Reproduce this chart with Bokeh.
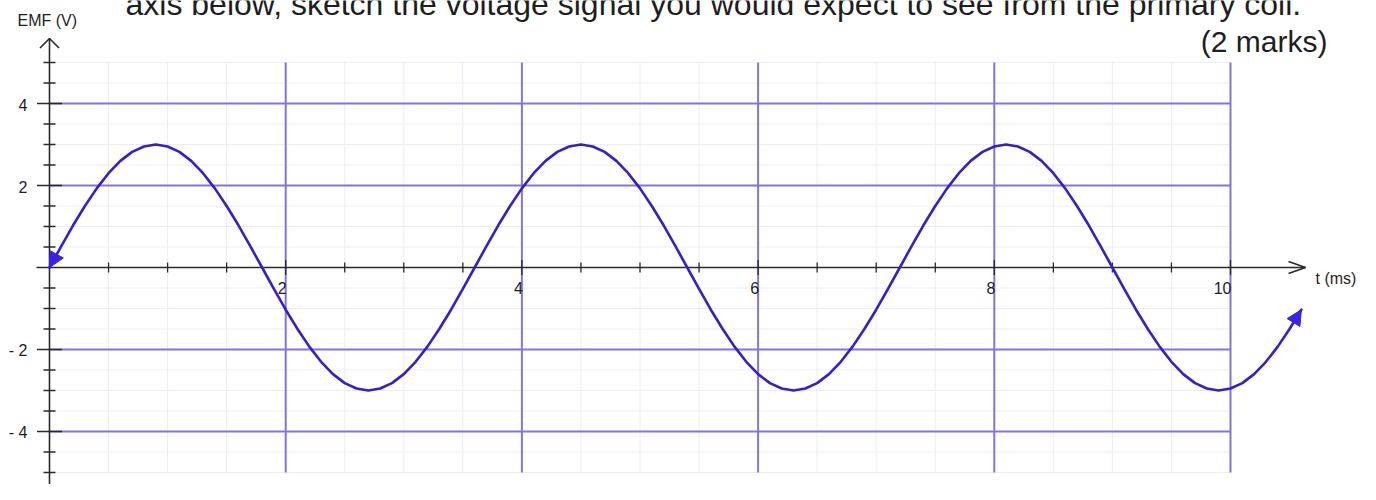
import numpy as np
from bokeh.plotting import figure
from bokeh.models import Range1d, Arrow, NormalHead
from bokeh.core.properties import value
from bokeh.embed import file_html
from bokeh.resources import INLINE

# ---------------- data ----------------
# sample times in ms (0 .. 10.6 every 0.1 ms)
t_ms = np.round(np.arange(0, 10.65, 0.1), 1).tolist()
# EMF readings in volts at those times
emf_v = [
    0.00, 0.52, 1.03, 1.50, 1.93, 2.30, 2.60, 2.82, 2.95, 3.00,
    2.95, 2.82, 2.60, 2.30, 1.93, 1.50, 1.03, 0.52, 0.00, -0.52,
    -1.03, -1.50, -1.93, -2.30, -2.60, -2.82, -2.95, -3.00, -2.95, -2.82,
    -2.60, -2.30, -1.93, -1.50, -1.03, -0.52,
    0.00, 0.52, 1.03, 1.50, 1.93, 2.30, 2.60, 2.82, 2.95, 3.00,
    2.95, 2.82, 2.60, 2.30, 1.93, 1.50, 1.03, 0.52, 0.00, -0.52,
    -1.03, -1.50, -1.93, -2.30, -2.60, -2.82, -2.95, -3.00, -2.95, -2.82,
    -2.60, -2.30, -1.93, -1.50, -1.03, -0.52,
    0.00, 0.52, 1.03, 1.50, 1.93, 2.30, 2.60, 2.82, 2.95, 3.00,
    2.95, 2.82, 2.60, 2.30, 1.93, 1.50, 1.03, 0.52, 0.00, -0.52,
    -1.03, -1.50, -1.93, -2.30, -2.60, -2.82, -2.95, -3.00, -2.95, -2.82,
    -2.60, -2.30, -1.93, -1.50, -1.03,
]

x_major_ticks = [2, 4, 6, 8, 10]
x_tick_labels = ["2", "4", "6", "8", "10"]
x_minor_ticks = [0.5, 1, 1.5, 2.5, 3, 3.5, 4.5, 5, 5.5, 6.5, 7, 7.5, 8.5, 9, 9.5]
y_major_ticks = [4, 2, -2, -4]
y_tick_labels = ["4", "2", "- 2", "- 4"]
y_minor_ticks = [5, 4.5, 3.5, 3, 2.5, 1.5, 1, 0.5, -0.5, -1, -1.5, -2.5, -3, -3.5, -4.5, -5]
grid_x_minor = [0, 0.5, 1, 1.5, 2, 2.5, 3, 3.5, 4, 4.5, 5, 5.5, 6, 6.5, 7, 7.5, 8, 8.5, 9, 9.5, 10]
grid_y_minor = [-5, -4.5, -4, -3.5, -3, -2.5, -2, -1.5, -1, -0.5, 0, 0.5, 1, 1.5, 2, 2.5, 3, 3.5, 4, 4.5, 5]
grid_x_major = [2, 4, 6, 8, 10]
grid_y_major = [4, 2, -2, -4]
grid_x_span = (0, 10)
grid_y_span = (-5, 5)

title_text = "axis below, sketch the voltage signal you would expect to see from the primary coil."
marks_text = "(2 marks)"
y_title = "EMF (V)"
x_title = "t (ms)"

# ---------------- layout / style ----------------
W, H = 1360, 484
OX, OY = 49.0, 267.0      # canvas pixel of the origin
SX, SY = 118.1, 41.0      # pixels per ms, pixels per volt


def X(px):
    return (px - OX) / SX


def Y(py):
    return (OY - py) / SY


FONT = value("Liberation Sans")
TXT = "#1e1e1e"
AX = "#2a2a2a"
CURVE = "#3a1ec4"
HEAD = "#3a22e6"
MAJOR = "#8375de"
MINOR = "#ececf7"

p = figure(width=W, height=H,
           x_range=Range1d(X(0), X(W)), y_range=Range1d(Y(H), Y(0)),
           output_backend="svg", toolbar_location=None,
           x_axis_location=None, y_axis_location=None,
           min_border=0, title=None)
p.outline_line_color = None
p.grid.visible = False
p.background_fill_color = "white"
p.border_fill_color = "white"

# minor grid
p.segment(x0=grid_x_minor, x1=grid_x_minor,
          y0=[grid_y_span[0]] * len(grid_x_minor), y1=[grid_y_span[1]] * len(grid_x_minor),
          line_color=MINOR, line_width=1)
p.segment(x0=[grid_x_span[0]] * len(grid_y_minor), x1=[grid_x_span[1]] * len(grid_y_minor),
          y0=grid_y_minor, y1=grid_y_minor, line_color=MINOR, line_width=1)
# major grid
p.segment(x0=grid_x_major, x1=grid_x_major,
          y0=[grid_y_span[0]] * len(grid_x_major), y1=[grid_y_span[1]] * len(grid_x_major),
          line_color=MAJOR, line_width=2)
p.segment(x0=[grid_x_span[0]] * len(grid_y_major), x1=[grid_x_span[1]] * len(grid_y_major),
          y0=grid_y_major, y1=grid_y_major, line_color=MAJOR, line_width=2)

# axes lines
p.segment(x0=[0], x1=[0], y0=[Y(497)], y1=[Y(38)], line_color=AX, line_width=1.6)
p.segment(x0=[X(36)], x1=[X(1305)], y0=[0], y1=[0], line_color=AX, line_width=1.6)
# axis arrow heads (open V)
p.multi_line(xs=[[X(39.5), 0, X(58.5)], [X(39.5), 0, X(58.5)], [X(1288), X(1305), X(1288)]],
             ys=[[Y(47.5), Y(38), Y(47.5)], [Y(487.5), Y(497), Y(487.5)], [Y(261), 0, Y(273)]],
             line_color=AX, line_width=1.6)

# ticks
p.scatter(x=[0] * len(y_minor_ticks), y=y_minor_ticks, marker="dash", size=12,
          line_color=AX, line_width=1.5)
p.scatter(x=[0] * len(y_major_ticks), y=y_major_ticks, marker="dash", size=25,
          line_color=AX, line_width=1.5)
p.scatter(x=x_minor_ticks, y=[0] * len(x_minor_ticks), marker="dash", size=10, angle=np.pi / 2,
          line_color=AX, line_width=1.3)
p.scatter(x=x_major_ticks, y=[0] * len(x_major_ticks), marker="dash", size=15, angle=np.pi / 2,
          line_color=AX, line_width=1.3)

# tick labels
p.text(x=[0] * len(y_major_ticks), y=y_major_ticks, text=y_tick_labels,
       text_align="right", text_baseline="alphabetic", x_offset=-22, y_offset=1,
       text_font=FONT, text_font_size="16px", text_color=TXT)
p.text(x=x_major_ticks, y=[0] * len(x_major_ticks), text=x_tick_labels,
       text_align="right", text_baseline="alphabetic", x_offset=1, y_offset=20,
       text_font=FONT, text_font_size="16px", text_color=TXT)

# axis titles
p.text(x=[X(17)], y=[Y(20)], text=[y_title], text_align="left", text_baseline="alphabetic",
       text_font=FONT, text_font_size="16px", text_color=TXT)
p.text(x=[X(1315)], y=[Y(278)], text=[x_title], text_align="left", text_baseline="alphabetic",
       text_font=FONT, text_font_size="16px", text_color=TXT)

# question text
p.text(x=[X(125)], y=[Y(3)], text=[title_text], text_align="left", text_baseline="alphabetic",
       text_font=FONT, text_font_size="32px", text_color=TXT)
p.text(x=[X(1327)], y=[Y(41)], text=[marks_text], text_align="right", text_baseline="alphabetic",
       text_font=FONT, text_font_size="30px", text_color=TXT)

# the sketched signal
p.line(t_ms, emf_v, line_color=CURVE, line_width=2.6, line_join="round", line_cap="round")
p.add_layout(Arrow(end=NormalHead(size=15, fill_color=HEAD, line_color=HEAD, line_width=1),
                   x_start=t_ms[1], y_start=emf_v[1], x_end=t_ms[0], y_end=emf_v[0],
                   line_alpha=0))
p.add_layout(Arrow(end=NormalHead(size=15, fill_color=HEAD, line_color=HEAD, line_width=1),
                   x_start=t_ms[-2], y_start=emf_v[-2], x_end=t_ms[-1], y_end=emf_v[-1],
                   line_alpha=0))

open("out.html", "w").write(file_html(p, INLINE))
